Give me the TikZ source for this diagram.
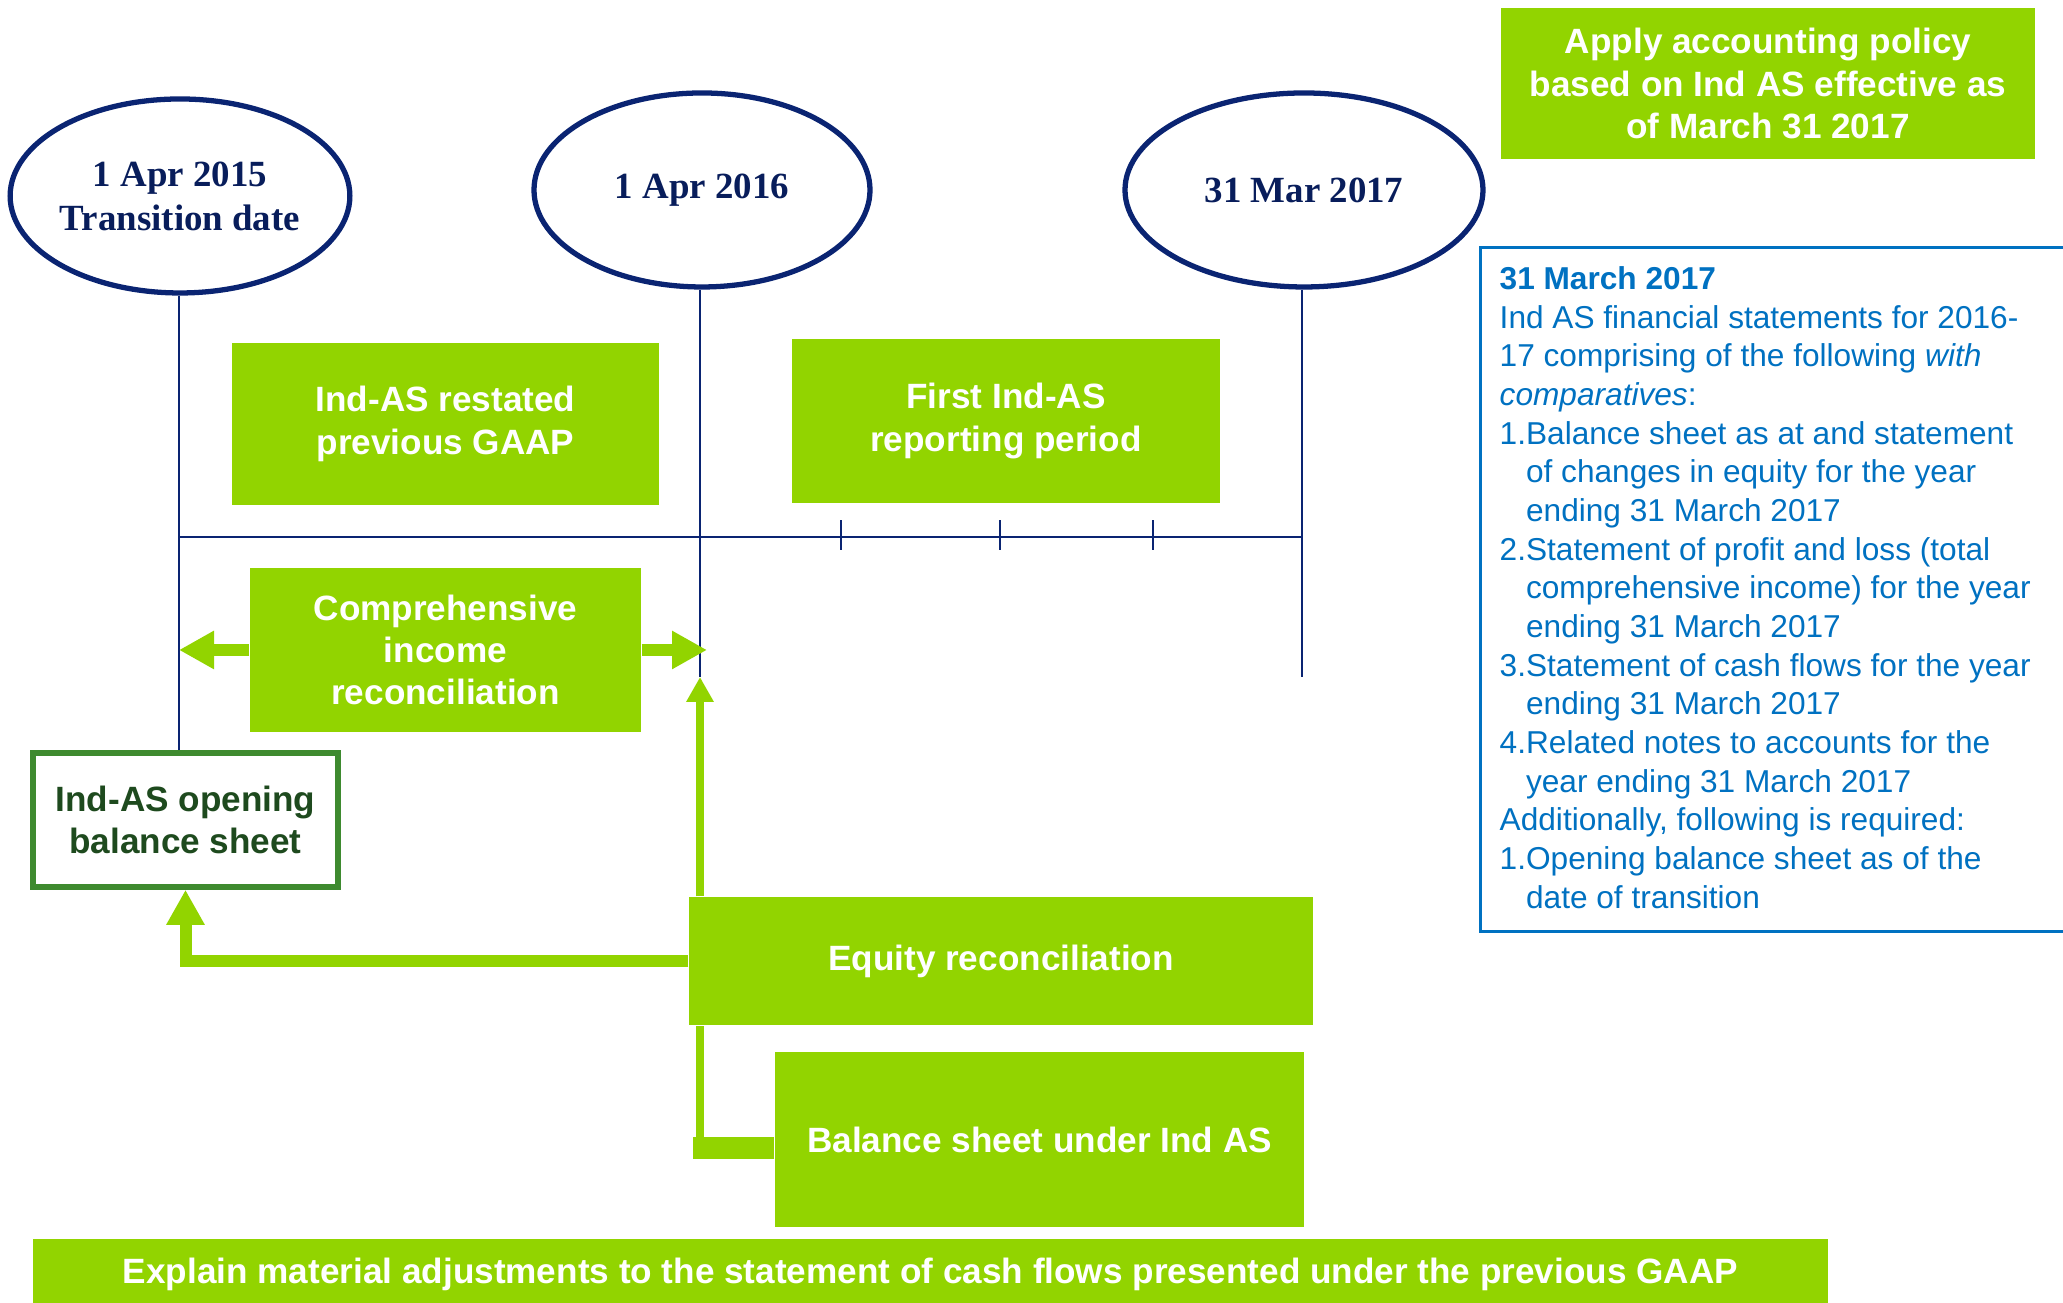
\documentclass[tikz,border=0pt]{standalone}
\usepackage{fontspec}
\setmainfont{Liberation Sans}
\newfontfamily\datefont{Liberation Serif}
\usetikzlibrary{arrows.meta,positioning,shapes.geometric,calc}

\definecolor{indgreen}{RGB}{146,212,0}
\definecolor{navy}{RGB}{10,36,114}
\definecolor{darkgreen}{RGB}{62,138,47}
\definecolor{leafgreen}{RGB}{30,74,30}
\definecolor{noteblue}{RGB}{0,113,193}

\begin{document}
\begin{tikzpicture}[
    datenode/.style={draw=navy, line width=1.5pt, ellipse, inner sep=0pt, minimum height=1.94cm, text=navy!80!black, font=\datefont\bfseries\fontsize{10.5}{12.5}\selectfont, align=center},
    greenbox/.style={fill=indgreen, text=white, inner sep=0pt, font=\bfseries\fontsize{10}{12}\selectfont, align=center},
    axis/.style={navy, line width=0.8pt},
    fatflow/.style={indgreen, line width=0.12cm, -{Triangle[length=0.35cm,width=0.36cm]}},
    slimflow/.style={indgreen, line width=0.08cm, -{Triangle[length=0.25cm,width=0.26cm]}}
  ]
    \useasboundingbox (0,0) rectangle (20.63,13.03);

    % dates on the timeline
    \node[datenode, minimum width=3.34cm] (d1) at (1.80,11.07) {1 Apr 2015\\Transition date};
    \node[datenode, minimum width=3.36cm] (d2) at (7.02,11.13) {1 Apr 2016};
    \node[datenode, minimum width=3.58cm] (d3) at (13.04,11.13) {31 Mar 2017};

    \node[greenbox, minimum width=4.27cm, minimum height=1.62cm] (restated) at (4.455,8.79) {Ind-AS restated\\previous GAAP};
    \node[greenbox, minimum width=4.28cm, minimum height=1.64cm] (first) at (10.06,8.82) {First Ind-AS\\reporting period};
    \node[greenbox, minimum width=3.91cm, minimum height=1.64cm] (compr) at (4.455,6.53) {Comprehensive\\income\\reconciliation};
    \node[draw=darkgreen, line width=1.6pt, fill=white, minimum width=3.05cm, minimum height=1.34cm, inner sep=0pt,
          text=leafgreen, font=\bfseries\fontsize{10}{12}\selectfont, align=center] (opening) at (1.855,4.83) {Ind-AS opening\\balance sheet};
    \node[greenbox, minimum width=6.24cm, minimum height=1.28cm] (equity) at (10.01,3.42) {Equity reconciliation};
    \node[greenbox, minimum width=5.29cm, minimum height=1.75cm] (balance) at (10.395,1.63) {Balance sheet under Ind AS};
    \node[greenbox, minimum width=17.95cm, minimum height=0.71cm] (cashflow) at (9.305,0.285) {Explain material adjustments to the statement of cash flows presented under the previous GAAP};
    \node[greenbox, minimum width=5.34cm, minimum height=1.51cm] (policy) at (17.68,12.195) {Apply accounting policy\\based on Ind AS effective as\\of March 31 2017};

    % notes box, runs off the right edge
    \node[draw=noteblue, line width=0.9pt, anchor=north west, minimum width=6.4cm, minimum height=6.84cm] (notes) at (14.79,10.57) {};
    \node[anchor=north west, inner sep=0pt, align=left, text=noteblue, font=\fontsize{9}{11}\selectfont] (notetext) at ([xshift=0.2cm,yshift=-0.2cm]notes.north west) {%
      \textbf{31 March 2017}\\
      Ind AS financial statements for 2016-\\
      17 comprising of the following \textit{with}\\
      \textit{comparatives}:\\
      1.Balance sheet as at and statement\\
      \phantom{1.}of changes in equity for the year\\
      \phantom{1.}ending 31 March 2017\\
      2.Statement of profit and loss (total\\
      \phantom{1.}comprehensive income) for the year\\
      \phantom{1.}ending 31 March 2017\\
      3.Statement of cash flows for the year\\
      \phantom{1.}ending 31 March 2017\\
      4.Related notes to accounts for the\\
      \phantom{1.}year ending 31 March 2017\\
      Additionally, following is required:\\
      1.Opening balance sheet as of the\\
      \phantom{1.}date of transition};

    % timeline
    \coordinate (t0) at (1.79,7.66);
    \coordinate (t1) at (13.02,7.66);
    \coordinate (e2) at (7.00,6.26);
    \coordinate (e3) at (13.02,6.26);
    \draw[axis] (d1.south -| t0) -- (opening.north -| t0);
    \draw[axis] (d2.south -| e2) -- (e2);
    \draw[axis] (d3.south -| e3) -- (e3);
    \draw[axis] (t0) -- (t1);
    \foreach \x in {8.41,10.00,11.53}
      \draw[axis] (\x,7.53) -- (\x,7.83);

    % reconciliation arrows
    \draw[fatflow] (compr.west) -- (compr.west -| t0);
    \draw[fatflow] (compr.east) -- ([xshift=0.07cm]compr.east -| e2);
    \draw[fatflow] (equity.west) -| (opening.south);
    \draw[slimflow] (equity.north -| e2) -- (e2);
    \coordinate (bj) at (7.00,1.55);
    \draw[indgreen, line width=0.22cm] (balance.west |- bj) -- ([xshift=-0.07cm]bj);
    \draw[indgreen, line width=0.08cm] ([yshift=0.1cm]bj) -- (equity.south -| bj);
  \end{tikzpicture}
\end{document}
